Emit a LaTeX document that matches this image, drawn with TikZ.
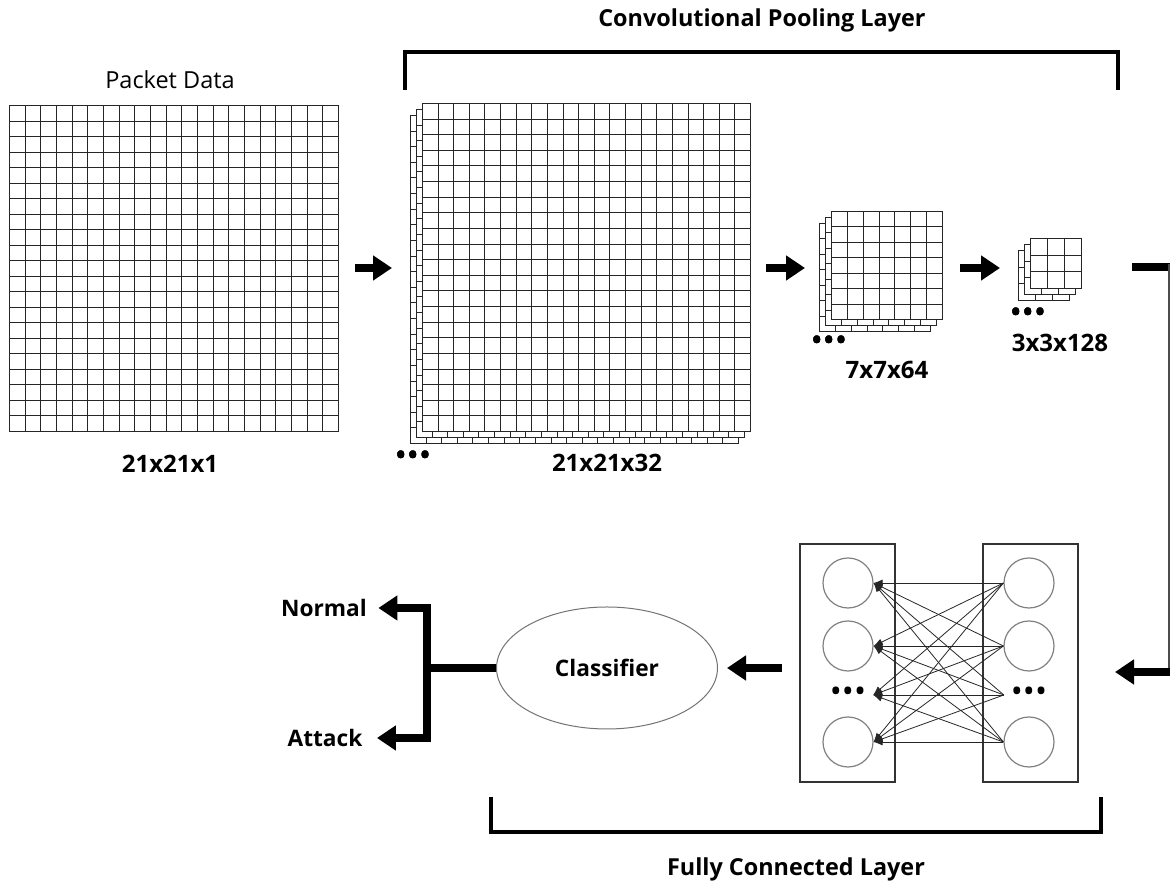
\documentclass[tikz,border=0pt]{standalone}
\usepackage{fontspec}
\setmainfont{Open Sans}
\usetikzlibrary{arrows.meta,shapes.geometric,positioning}

\tikzset{
  gridline/.style={draw=black!85,line width=1.2pt,line cap=rect},
  bigarrow/.style={line width=7.5pt,line join=miter,-{Triangle[length=19pt,width=24pt]}},
  thickline/.style={line width=7.5pt},
  bracket/.style={line width=3.5pt,line join=miter},
  neuron/.style={circle,draw=black!50,line width=1.2pt,minimum size=50pt,inner sep=0pt},
  dotsnode/.style={minimum width=50pt,inner sep=0pt,font=\fontsize{32}{32}\selectfont},
  layerbox/.style={draw=black!80,line width=1.1pt,minimum width=95pt,minimum height=238pt},
  fcedge/.style={line width=0.8pt,draw=black!85,-{Latex[length=9pt,width=7pt]}},
  lbl/.style={font=\bfseries\fontsize{24}{28}\selectfont},
  word/.style={font=\bfseries\fontsize{22.7}{27}\selectfont},
  ttl/.style={font=\bfseries\fontsize{23.4}{28}\selectfont},
}
\newcommand{\threedots}{\textbullet\textbullet\textbullet}
% one feature map: lower left x, y, cells, cell width, cell height
\newcommand{\featuremap}[5]{%
  \pgfmathsetmacro{\fmw}{round(#3*#4)}%
  \pgfmathsetmacro{\fmh}{round(#3*#5)}%
  \fill[white] (#1,#2) rectangle ++(\fmw+1,\fmh+1);
  \foreach \i in {0,...,#3}{%
    \pgfmathsetmacro{\fmx}{#1+round(\i*#4)+0.5}%
    \pgfmathsetmacro{\fmy}{#2+round(\i*#5)+0.5}%
    \draw[gridline] (\fmx,#2+0.5) -- (\fmx,#2+\fmh+0.5);
    \draw[gridline] (#1+0.5,\fmy) -- (#1+\fmw+0.5,\fmy);
  }%
}

\begin{document}
\begin{tikzpicture}[x=1pt,y=1pt]
\useasboundingbox (0,0) rectangle (1171,890);

% input packet
\node[font=\fontsize{23.5}{28}\selectfont] (pkt) at (170,810) {Packet Data};
\featuremap{9}{458}{21}{15.67}{15.52}
\node[lbl] (insz) at (170,426) {21x21x1};

% convolution / pooling stages
\foreach \d in {2,1,0}
  \featuremap{422-6*\d}{458-6*\d}{21}{15.62}{15.62}
\node[dotsnode] (dots1) at (413,431) {\threedots};
\node[lbl] (c1sz) at (607,427) {21x21x32};

\foreach \d in {2,1,0}
  \featuremap{831-6*\d}{570-6*\d}{7}{15.86}{15.43}
\node[dotsnode] (dots2) at (829,546) {\threedots};
\node[lbl] (c2sz) at (887,520) {7x7x64};

\foreach \d in {2,1,0}
  \featuremap{1030-6*\d}{601-6*\d}{3}{17}{16.7}
\node[dotsnode] (dots3) at (1028,574) {\threedots};
\node[lbl] (c3sz) at (1060,547) {3x3x128};

\coordinate (a1s) at (355,622);
\coordinate (a1e) at (392,622);
\coordinate (a2s) at (766,622);
\coordinate (a2e) at (805,622);
\coordinate (a3s) at (960,622);
\coordinate (a3e) at (1000,622);
\draw[bigarrow] (a1s) -- (a1e);
\draw[bigarrow] (a2s) -- (a2e);
\draw[bigarrow] (a3s) -- (a3e);

% top bracket
\node[ttl] (convttl) at (762,870) {Convolutional Pooling Layer};
\coordinate (tb1) at (405,800);
\coordinate (tb2) at (1118,800);
\draw[bracket] (tb1) -- ++(0,38) -| (tb2);

% down to the fully connected part
\coordinate (c3out) at (1132,623);
\coordinate (rc1) at (1170,623);
\coordinate (rc2) at (1169,218);
\coordinate (rc3) at (1170,218);
\coordinate (fcin) at (1115,218);
\draw[thickline] (c3out) -- (rc1);
\draw[line width=2pt,draw=black!70] (1169,626) -- (rc2);
\draw[bigarrow] (rc3) -- (fcin);

% fully connected layer
\node[layerbox] (lbox) at (847.5,227) {};
\node[layerbox] (rbox) at (1030.5,227) {};
\node[neuron] (l1) at (848,307) {};
\node[neuron] (l2) at (848,244) {};
\node[dotsnode] (ld) at (848,195) {\threedots};
\node[neuron] (l3) at (848,148) {};
\node[neuron] (r1) at (1029,307) {};
\node[neuron] (r2) at (1029,244) {};
\node[dotsnode] (rd) at (1029,195) {\threedots};
\node[neuron] (r3) at (1029,148) {};
\foreach \s in {r1,r2,rd,r3}
  \foreach \t in {l1,l2,ld,l3}
    \draw[fcedge] (\s.west) -- (\t.east);

% classifier and outputs
\node[ellipse,draw=black!55,line width=1pt,minimum width=221pt,minimum height=122pt,
      word] (cls) at (607,222) {Classifier};
\coordinate (fcout) at (782,222);
\draw[bigarrow] (fcout) -- ([xshift=9pt]cls.east);

\node[word] (normal) at (324,282) {Normal};
\node[word] (attack) at (325,152) {Attack};
\coordinate (split) at (427,222);
\draw[thickline] (cls.west) -- (split);
\draw[bigarrow] (split) |- ([xshift=8pt]normal.east);
\draw[bigarrow] (split) |- ([xshift=11pt]attack.east);

% bottom bracket
\coordinate (bb1) at (491,93);
\coordinate (bb2) at (1101,93);
\draw[bracket] (bb1) -- ++(0,-35) -| (bb2);
\node[ttl] (fcttl) at (796,21) {Fully Connected Layer};
\end{tikzpicture}
\end{document}
